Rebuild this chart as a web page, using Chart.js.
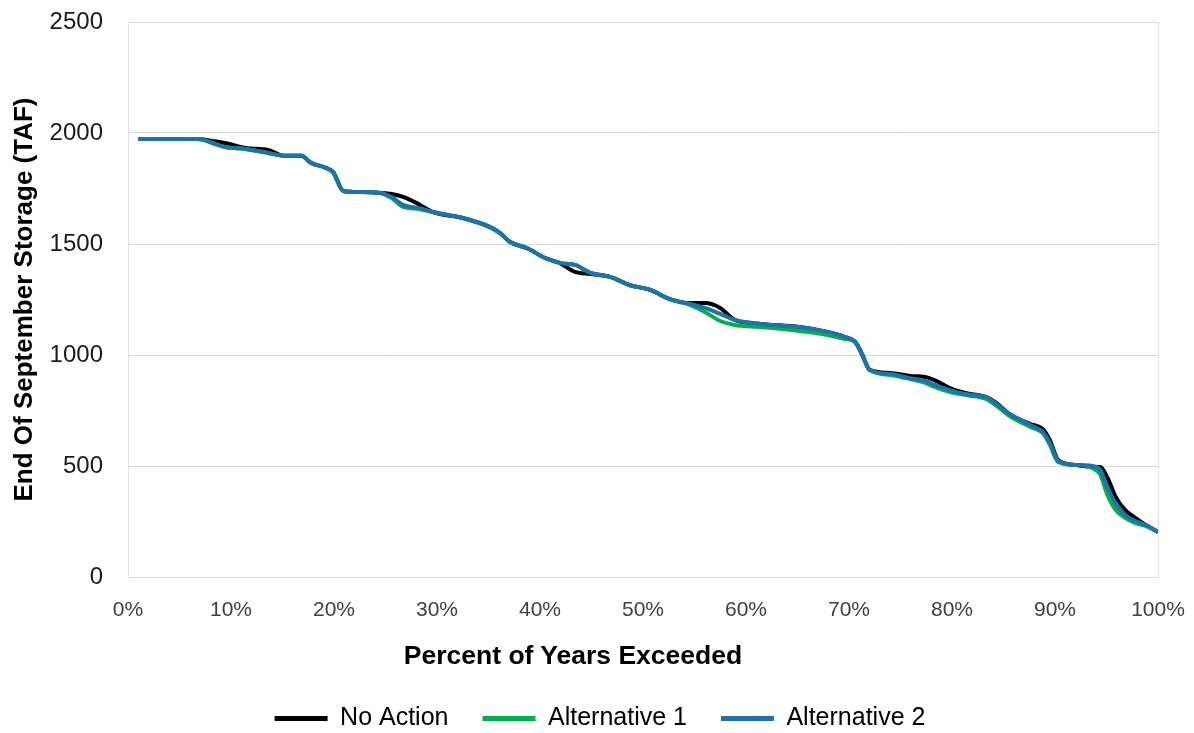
<!DOCTYPE html>
<html><head><meta charset="utf-8">
<script src="https://cdn.jsdelivr.net/npm/chart.js@4.4.1/dist/chart.umd.min.js"></script>
<style>
html,body{margin:0;padding:0;background:#fff;}
#wrap{position:relative;width:1194px;height:733px;}
#xtitle{position:absolute;left:0;top:640px;width:1146px;text-align:center;font:bold 26.5px "Liberation Sans",Arial,sans-serif;color:#000;line-height:30px;}
</style></head><body>
<div id="wrap"><canvas id="c" width="1194" height="733"></canvas><div id="xtitle">Percent of Years Exceeded</div></div>
<script>
const pct = [1.0, 3.1, 6.8, 8.2, 9.4, 11.4, 13.6, 15.2, 16.8, 17.8, 19.2, 19.9, 20.9, 22.5, 24.5, 25.6, 26.7, 28.2, 29.6, 32.5, 35.1, 36.1, 37.1, 38.7, 40.5, 41.9, 43.4, 44.9, 46.8, 48.7, 50.7, 52.6, 54.6, 56.0, 57.5, 58.9, 61.4, 65.2, 67.9, 69.6, 70.6, 71.3, 72.0, 74.0, 75.9, 77.4, 78.3, 79.8, 81.3, 83.3, 84.2, 85.6, 87.6, 88.8, 89.5, 90.3, 91.9, 93.6, 94.4, 95.1, 95.9, 96.8, 97.8, 98.8, 100];
const noAction = [1973, 1973, 1973, 1964, 1955, 1933, 1924, 1897, 1897, 1865, 1843, 1825, 1739, 1734, 1730, 1725, 1712, 1680, 1644, 1617, 1577, 1550, 1509, 1482, 1437, 1415, 1374, 1365, 1352, 1315, 1293, 1252, 1234, 1234, 1212, 1158, 1140, 1126, 1104, 1081, 1059, 1000, 933, 919, 906, 901, 887, 851, 829, 811, 788, 734, 689, 667, 617, 527, 505, 496, 496, 446, 360, 302, 266, 234, 203];
const alternative1 = [1973, 1973, 1973, 1955, 1937, 1928, 1910, 1897, 1897, 1865, 1843, 1825, 1739, 1734, 1730, 1707, 1667, 1658, 1644, 1617, 1577, 1550, 1509, 1482, 1437, 1415, 1406, 1370, 1352, 1315, 1293, 1252, 1225, 1194, 1153, 1135, 1126, 1108, 1090, 1072, 1059, 1000, 933, 910, 892, 874, 856, 833, 820, 802, 775, 725, 676, 649, 595, 518, 505, 491, 460, 369, 302, 266, 243, 230, 203];
const alternative2 = [1973, 1973, 1973, 1955, 1937, 1928, 1910, 1897, 1897, 1865, 1843, 1825, 1739, 1734, 1730, 1712, 1676, 1662, 1644, 1617, 1577, 1550, 1509, 1482, 1437, 1415, 1406, 1370, 1352, 1315, 1293, 1252, 1230, 1212, 1185, 1158, 1140, 1126, 1104, 1081, 1059, 1000, 933, 915, 896, 883, 865, 842, 824, 811, 784, 734, 685, 653, 604, 523, 505, 500, 482, 401, 333, 279, 252, 234, 203];
const seriesNames = ["No Action", "Alternative 1", "Alternative 2"];
const yTicks = [0, 500, 1000, 1500, 2000, 2500];
const xTicks = [0, 10, 20, 30, 40, 50, 60, 70, 80, 90, 100];

const colors = ["#000000", "#00b050", "#1f72aa"];
const seriesValues = [noAction, alternative1, alternative2];
const FONT = '"Liberation Sans", Arial, sans-serif';

const datasets = seriesValues.map((vals, i) => ({
  label: seriesNames[i],
  data: pct.map((p, j) => ({x: p, y: vals[j]})),
  borderColor: colors[i],
  backgroundColor: colors[i],
  borderWidth: 4,
  pointRadius: 0,
  tension: 0.4,
  cubicInterpolationMode: 'monotone',
  order: 3 - i
}));

const legendShift = {
  id: 'legendShift',
  afterLayout(chart) {
    if (chart.legend) {
      chart.legend.left += 21; chart.legend.right += 21;
      chart.legend.top += 4; chart.legend.bottom += 4;
    }
  }
};

new Chart(document.getElementById('c'), {
  type: 'line',
  data: {datasets},
  plugins: [legendShift],
  options: {
    responsive: false,
    animation: false,
    layout: {padding: {left: 0, right: 36, top: 22, bottom: -4}},
    plugins: {
      tooltip: {enabled: false},
      legend: {
        position: 'bottom',
        labels: {
          boxWidth: 53,
          boxHeight: 5,
          padding: 34,
          color: '#000',
          font: {family: FONT, size: 25},
          generateLabels(chart) {
            const items = Chart.defaults.plugins.legend.labels.generateLabels(chart);
            items.forEach(it => { it.lineWidth = 0; });
            return items.sort((a, b) => a.datasetIndex - b.datasetIndex);
          }
        }
      }
    },
    scales: {
      x: {
        type: 'linear',
        min: 0, max: 100,
        afterBuildTicks(scale) { scale.ticks = xTicks.map(v => ({value: v})); },
        afterFit(scale) { scale.height = 91; },
        ticks: {
          callback: v => v + '%',
          color: '#404040',
          padding: 0,
          maxRotation: 0,
          autoSkip: false,
          font: {family: FONT, size: 21}
        },
        grid: {
          drawTicks: true,
          tickLength: 21,
          tickColor: 'rgba(0,0,0,0)',
          color: c => (c.tick && c.tick.value === 100) ? '#e3e3e3' : 'rgba(0,0,0,0)'
        },
        border: {display: true, color: '#d9d9d9'}
      },
      y: {
        min: 0, max: 2500,
        afterBuildTicks(scale) { scale.ticks = yTicks.map(v => ({value: v})); },
        afterFit(scale) { scale.width = 128; },
        ticks: {
          callback: v => String(v),
          color: '#1a1a1a',
          padding: 0,
          font: {family: FONT, size: 24}
        },
        grid: {drawTicks: true, tickLength: 25, tickColor: 'rgba(0,0,0,0)', color: '#d9d9d9', lineWidth: 1},
        border: {display: true, color: '#e3e3e3'},
        title: {
          display: true,
          text: 'End Of September Storage (TAF)',
          color: '#000',
          font: {family: FONT, size: 26, weight: 'bold'},
          padding: {top: 9, bottom: 0}
        }
      }
    }
  }
});
</script>
</body></html>
